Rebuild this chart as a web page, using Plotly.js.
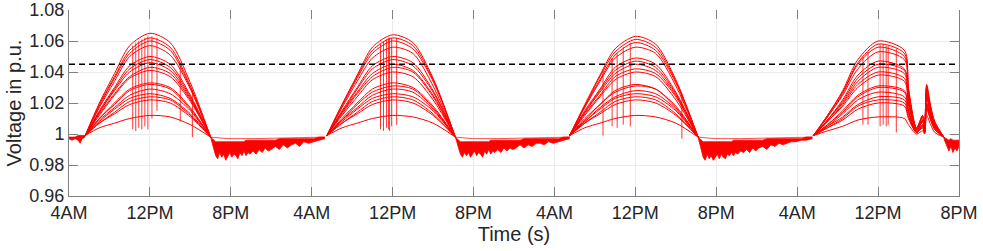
<!DOCTYPE html>
<html>
<head>
<meta charset="utf-8">
<script src="https://cdn.plot.ly/plotly-3.0.1.min.js"></script>
<style>html,body{margin:0;padding:0;background:#fff;}#chart{width:983px;height:251px;}</style>
</head>
<body>
<div id="chart"></div>
<script>
// ---- time axis (hours since 4AM of day 1) ----
const tickHours = [0, 8, 16, 24, 32, 40, 48, 56, 64, 72, 80, 88];
const tickLabels = ['4AM','12PM','8PM','4AM','12PM','8PM','4AM','12PM','8PM','4AM','12PM','8PM'];
const voltTicks = [0.96, 0.98, 1.00, 1.02, 1.04, 1.06, 1.08];
const voltTickLabels = ['0.96','0.98','1','1.02','1.04','1.06','1.08'];
const limitHours = [0, 88];
const limitValue = 1.045;

// ---- daytime sample hours ----
const day1Hours = [1.6, 3, 4.5, 6, 8, 10, 12, 14.0];
const day2Hours = [25.5, 27, 28.5, 30, 32, 34, 36, 38.2];
const day3Hours = [49.5, 51, 52.5, 54, 56, 58, 60, 62.2];
const day4Hours = [73.6, 75, 76.5, 78, 80, 82.6, 83.0, 83.8, 84.4, 84.6, 84.8, 85.2, 85.6, 86.5];

// ---- bus voltages (day1 | day2 | day3 | day4) ----
const bus01 = [0.999,1.020,1.039,1.057,1.065,1.059,1.033,0.998, 0.999,1.019,1.038,1.056,1.064,1.059,1.036,0.998, 0.999,1.019,1.038,1.055,1.063,1.058,1.035,0.998, 0.999,1.012,1.028,1.048,1.060,1.054,1.030,1.004,1.012,1.003,1.032,1.018,1.008,0.998];
const bus02 = [0.999,1.019,1.037,1.054,1.062,1.056,1.031,0.998, 0.999,1.019,1.037,1.054,1.062,1.057,1.035,0.998, 0.999,1.018,1.037,1.053,1.061,1.056,1.034,0.998, 0.999,1.012,1.027,1.046,1.058,1.052,1.029,1.004,1.012,1.003,1.031,1.017,1.008,0.998];
const bus03 = [0.999,1.018,1.036,1.052,1.060,1.054,1.030,0.998, 0.999,1.018,1.036,1.052,1.060,1.055,1.034,0.998, 0.999,1.018,1.035,1.051,1.059,1.054,1.033,0.998, 0.999,1.011,1.026,1.045,1.056,1.050,1.028,1.003,1.011,1.003,1.030,1.017,1.007,0.998];
const bus04 = [0.999,1.017,1.034,1.050,1.057,1.051,1.029,0.998, 0.999,1.017,1.034,1.049,1.056,1.052,1.031,0.998, 0.999,1.017,1.034,1.049,1.056,1.052,1.031,0.998, 0.999,1.011,1.025,1.042,1.053,1.048,1.027,1.003,1.011,1.002,1.029,1.016,1.007,0.998];
const bus05 = [0.999,1.015,1.030,1.044,1.050,1.045,1.025,0.998, 0.999,1.015,1.030,1.044,1.050,1.046,1.028,0.998, 0.999,1.015,1.029,1.043,1.049,1.045,1.027,0.998, 0.999,1.009,1.022,1.038,1.047,1.042,1.024,1.003,1.009,1.002,1.027,1.015,1.006,0.998];
const bus06 = [0.999,1.014,1.029,1.042,1.048,1.043,1.024,0.998, 0.999,1.014,1.029,1.042,1.048,1.044,1.027,0.998, 0.999,1.014,1.028,1.041,1.047,1.043,1.026,0.998, 0.999,1.009,1.021,1.036,1.045,1.041,1.023,1.003,1.009,1.002,1.026,1.015,1.006,0.998];
const bus07 = [0.999,1.014,1.028,1.040,1.046,1.041,1.023,0.998, 0.999,1.014,1.027,1.039,1.045,1.041,1.025,0.998, 0.999,1.014,1.027,1.039,1.045,1.041,1.025,0.998, 0.999,1.009,1.020,1.034,1.043,1.039,1.022,1.002,1.009,1.002,1.025,1.014,1.006,0.998];
const bus08 = [0.999,1.013,1.026,1.037,1.043,1.039,1.022,0.998, 0.999,1.013,1.026,1.037,1.043,1.040,1.024,0.998, 0.999,1.013,1.025,1.037,1.042,1.039,1.024,0.998, 0.999,1.008,1.019,1.032,1.040,1.036,1.020,1.002,1.008,1.002,1.024,1.013,1.005,0.998];
const bus09 = [0.999,1.012,1.025,1.036,1.041,1.037,1.021,0.998, 0.999,1.012,1.024,1.035,1.040,1.037,1.022,0.998, 0.999,1.012,1.024,1.035,1.040,1.037,1.022,0.998, 0.999,1.008,1.018,1.030,1.038,1.034,1.019,1.002,1.008,1.002,1.023,1.013,1.005,0.998];
const bus10 = [0.999,1.010,1.020,1.029,1.033,1.030,1.017,0.998, 0.999,1.010,1.020,1.029,1.033,1.030,1.018,0.998, 0.999,1.010,1.019,1.028,1.032,1.029,1.018,0.998, 0.999,1.006,1.015,1.025,1.031,1.028,1.016,1.001,1.006,1.001,1.020,1.011,1.004,0.998];
const bus11 = [0.999,1.010,1.019,1.028,1.032,1.029,1.016,0.998, 0.999,1.009,1.019,1.027,1.031,1.029,1.017,0.998, 0.999,1.009,1.019,1.027,1.031,1.029,1.017,0.998, 0.999,1.006,1.014,1.024,1.030,1.027,1.015,1.001,1.006,1.001,1.020,1.011,1.004,0.998];
const bus12 = [0.999,1.009,1.017,1.025,1.029,1.026,1.015,0.998, 0.999,1.009,1.017,1.025,1.029,1.027,1.016,0.998, 0.999,1.008,1.017,1.024,1.028,1.026,1.016,0.998, 0.999,1.005,1.013,1.022,1.027,1.024,1.014,1.001,1.005,1.001,1.019,1.010,1.004,0.998];
const bus13 = [0.999,1.008,1.016,1.023,1.026,1.023,1.013,0.998, 0.999,1.008,1.016,1.023,1.026,1.024,1.015,0.998, 0.999,1.008,1.016,1.023,1.026,1.024,1.015,0.998, 0.999,1.005,1.011,1.019,1.024,1.022,1.012,1.001,1.005,1.001,1.018,1.010,1.003,0.998];
const bus14 = [0.999,1.007,1.014,1.021,1.024,1.022,1.012,0.998, 0.999,1.007,1.014,1.021,1.024,1.022,1.013,0.998, 0.999,1.007,1.014,1.021,1.024,1.022,1.013,0.998, 0.999,1.004,1.010,1.018,1.022,1.020,1.011,1.001,1.004,1.001,1.017,1.009,1.003,0.998];
const bus15 = [0.999,1.007,1.013,1.019,1.022,1.020,1.011,0.998, 0.999,1.007,1.013,1.019,1.022,1.020,1.012,0.998, 0.999,1.007,1.013,1.019,1.022,1.020,1.012,0.998, 0.999,1.004,1.009,1.016,1.020,1.018,1.010,1.001,1.004,1.001,1.016,1.009,1.003,0.998];
const bus16 = [0.999,1.004,1.007,1.010,1.012,1.011,1.006,0.998, 0.999,1.004,1.007,1.010,1.012,1.011,1.007,0.998, 0.999,1.004,1.007,1.010,1.012,1.011,1.007,0.998, 0.999,1.002,1.005,1.009,1.011,1.010,1.006,1.000,1.002,1.000,1.012,1.006,1.001,0.998];
const buses = [bus01,bus02,bus03,bus04,bus05,bus06,bus07,bus08,bus09,bus10,bus11,bus12,bus13,bus14,bus15,bus16];

// ---- night-time noisy band ----
const nightStarts = [14.0, 38.2, 62.2];
const nightOffsets = [0,0.3,0.5,0.7,0.9,1.1,1.3,1.5,1.7,1.9,2.1,2.3,2.5,2.7,2.9,3.1,3.3,3.5,3.7,3.9,4.2,4.5,4.8,5.1,5.4,5.7,6.0,6.4,6.8,7.2,7.6,8.0,8.4,8.8,9.2,9.7,10.2,10.7,11.3];
const nightUpper = [0.998,0.996,0.995,0.995,0.995,0.995,0.995,0.995,0.995,0.995,0.995,0.995,0.995,0.995,0.995,0.995,0.995,0.996,0.996,0.996,0.996,0.996,0.996,0.996,0.996,0.996,0.996,0.996,0.997,0.997,0.997,0.997,0.997,0.997,0.997,0.997,0.997,0.998,0.998];
const night1Lower = [0.998,0.990,0.986,0.984,0.988,0.985,0.987,0.983,0.986,0.988,0.985,0.987,0.986,0.984,0.988,0.986,0.989,0.986,0.988,0.987,0.989,0.987,0.990,0.988,0.991,0.989,0.990,0.992,0.990,0.993,0.991,0.993,0.994,0.992,0.995,0.994,0.995,0.996,0.997];
const night2Lower = [0.998,0.991,0.987,0.985,0.988,0.986,0.988,0.985,0.987,0.989,0.986,0.988,0.987,0.985,0.989,0.987,0.990,0.987,0.989,0.988,0.990,0.988,0.991,0.989,0.991,0.990,0.991,0.993,0.991,0.993,0.992,0.994,0.994,0.993,0.995,0.994,0.995,0.996,0.997];
const night3Lower = [0.998,0.989,0.985,0.983,0.987,0.984,0.986,0.983,0.985,0.987,0.984,0.987,0.985,0.984,0.987,0.986,0.988,0.986,0.988,0.987,0.989,0.988,0.990,0.988,0.991,0.989,0.991,0.992,0.990,0.993,0.992,0.994,0.993,0.994,0.995,0.995,0.996,0.996,0.997];
const nightLowers = [night1Lower, night2Lower, night3Lower];
const nightTop = [0.998, 0.997, 0.997, 0.998];

const dawnHours = [0, 0.3, 0.6, 0.9, 1.1, 1.3, 1.6];
const dawnLower = [0.997, 0.996, 0.997, 0.996, 0.994, 0.997, 0.998];
const dawnUpper = [0.998, 0.998, 0.998, 0.999, 0.999, 0.999, 0.999];
const duskHours = [86.5, 86.8, 87.0, 87.2, 87.4, 87.6, 87.8, 88.0];
const duskLower = [0.997, 0.992, 0.989, 0.992, 0.988, 0.991, 0.989, 0.992];
const duskUpper = [0.998, 0.997, 0.996, 0.997, 0.996, 0.996, 0.996, 0.996];

// ---- irradiance dips (vertical spikes) ----
const spikeHours = [6.3,6.6,6.9,7.2,7.5,7.8,8.2,8.7,11.0,12.2, 30.8,31.1,31.4,31.6,31.7,31.9,32.4, 52.8,53.7,54.2,54.8,55.5,60.6, 78.5,79.0,80.2,80.5,80.8,81.0,81.8];
const spikeHigh  = [1.057,1.059,1.060,1.061,1.062,1.063,1.063,1.062,1.046,1.028, 1.058,1.060,1.061,1.062,1.062,1.062,1.062, 1.042,1.049,1.052,1.056,1.059,1.026, 1.050,1.053,1.058,1.058,1.057,1.057,1.055];
const spikeLow   = [1.003,1.002,1.004,1.003,1.005,1.003,1.010,1.015,1.008,0.998, 1.003,1.002,1.004,1.003,1.002,1.005,1.006, 0.999,1.005,1.004,1.006,1.005,0.997, 1.006,1.006,1.005,1.006,1.005,1.006,1.001];

const RED = '#ff0000';
const traces = [];

function dayX() {
  return [].concat(day1Hours, [null], day2Hours, [null], day3Hours, [null], day4Hours);
}
function dayY(v) {
  return [].concat(v.slice(0,8), [null], v.slice(8,16), [null], v.slice(16,24), [null], v.slice(24));
}

// bands (lower line then filled upper)
function band(xs, lo, hi) {
  traces.push({x: xs, y: lo, mode: 'lines', line: {color: RED, width: 0.8}, hoverinfo: 'skip', showlegend: false});
  traces.push({x: xs, y: hi, mode: 'lines', line: {color: RED, width: 0.8}, fill: 'tonexty', fillcolor: RED, hoverinfo: 'skip', showlegend: false});
}
band(dawnHours, dawnLower, dawnUpper);
nightStarts.forEach((s, i) => {
  const xs = nightOffsets.map(o => s + o);
  band(xs, nightLowers[i], nightUpper);
  traces.push({x: [xs[0], xs[8], xs[20], xs[xs.length-1]], y: nightTop, mode: 'lines', line: {color: RED, width: 0.7}, hoverinfo: 'skip', showlegend: false});
});
band(duskHours, duskLower, duskUpper);

buses.forEach(v => {
  traces.push({x: dayX(), y: dayY(v), mode: 'lines', line: {color: RED, width: 1, shape: 'spline', smoothing: 0.8}, connectgaps: false, hoverinfo: 'skip', showlegend: false});
});

// spikes
const sx = [], sy = [];
spikeHours.forEach((h, i) => { sx.push(h, h, null); sy.push(spikeHigh[i], spikeLow[i], null); });
traces.push({x: sx, y: sy, mode: 'lines', line: {color: RED, width: 0.8}, hoverinfo: 'skip', showlegend: false});

// limit line
traces.push({x: limitHours, y: [limitValue, limitValue], mode: 'lines', line: {color: '#000000', width: 1.6, dash: '6px,4px'}, hoverinfo: 'skip', showlegend: false});

// invisible trace for top tick axis
traces.push({x: limitHours, y: [limitValue, limitValue], xaxis: 'x2', yaxis: 'y', mode: 'lines', line: {width: 0}, opacity: 0, hoverinfo: 'skip', showlegend: false});

const FONT = 'Liberation Sans, Arial, Helvetica, sans-serif';
const layout = {
  width: 983, height: 251,
  margin: {l: 69, r: 24, t: 10, b: 55},
  paper_bgcolor: '#ffffff', plot_bgcolor: '#ffffff',
  font: {family: FONT, color: '#262626'},
  xaxis: {
    range: [0, 88], tickmode: 'array', tickvals: tickHours, ticktext: tickLabels,
    showgrid: true, gridcolor: '#ebebeb', gridwidth: 1, zeroline: false,
    showline: true, linecolor: '#808080', linewidth: 1,
    ticks: 'inside', ticklen: 9, tickcolor: '#808080', tickwidth: 1,
    tickfont: {family: FONT, size: 18, color: '#262626'},
    title: {text: 'Time (s)', font: {family: FONT, size: 20, color: '#262626'}, standoff: 4}
  },
  xaxis2: {
    overlaying: 'x', side: 'top', matches: 'x', range: [0, 88], tickmode: 'array', tickvals: tickHours,
    showticklabels: false, showgrid: false, zeroline: false, showline: false,
    ticks: 'inside', ticklen: 9, tickcolor: '#808080', tickwidth: 1
  },
  yaxis: {
    range: [0.96, 1.08], tickmode: 'array', tickvals: voltTicks, ticktext: voltTickLabels,
    showgrid: true, gridcolor: '#ebebeb', gridwidth: 1, zeroline: false,
    showline: true, linecolor: '#808080', linewidth: 1, mirror: 'ticks',
    ticks: 'inside', ticklen: 9, tickcolor: '#808080', tickwidth: 1,
    tickfont: {family: FONT, size: 18, color: '#262626'},
    title: {text: 'Voltage in p.u.', font: {family: FONT, size: 20, color: '#262626'}, standoff: 2}
  }
};

Plotly.newPlot('chart', traces, layout, {staticPlot: true, displayModeBar: false});
</script>
</body>
</html>
